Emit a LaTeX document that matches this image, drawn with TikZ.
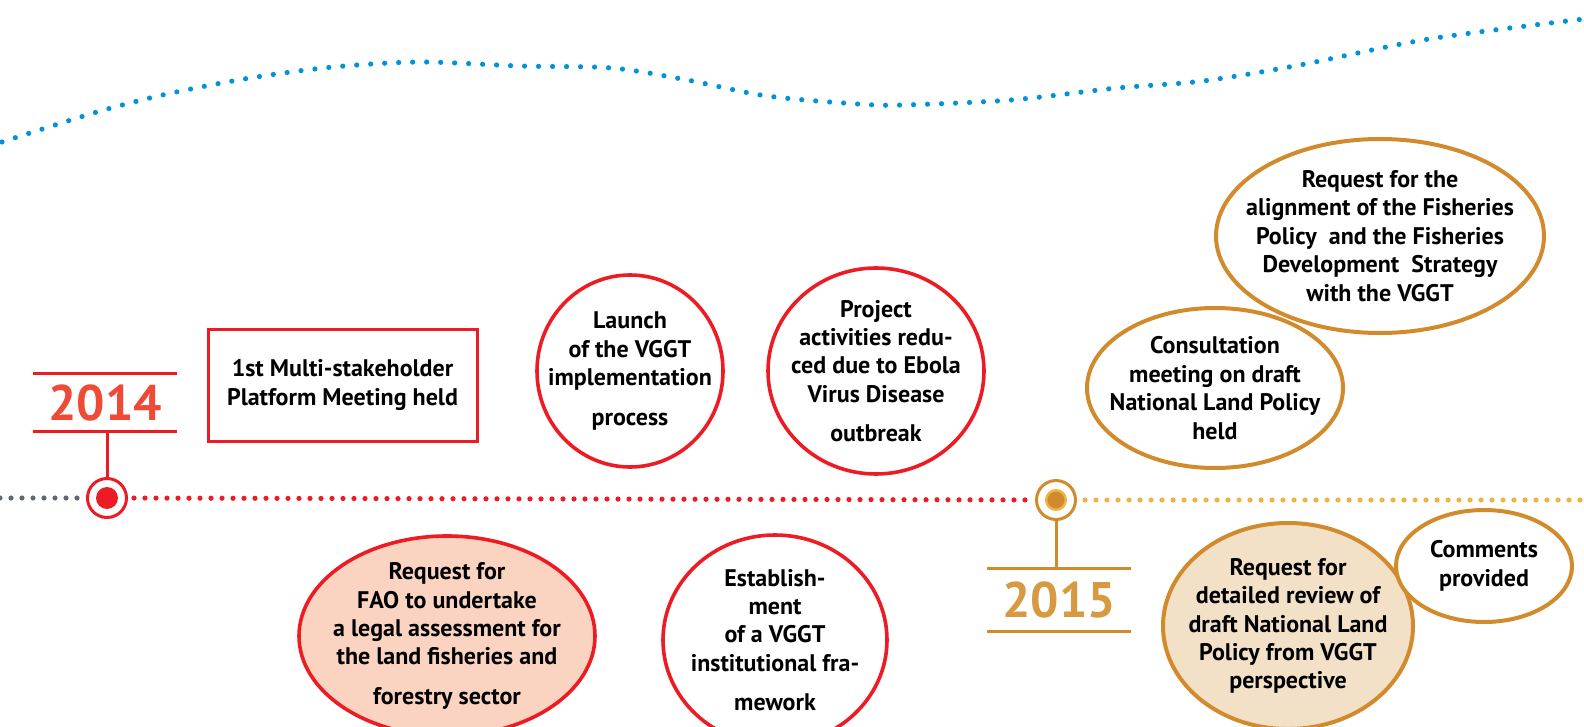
\documentclass[tikz,border=0pt]{standalone}
\usepackage{fontspec}
\setmainfont{PT Sans}
\usetikzlibrary{shapes.geometric}
\definecolor{tlred}{HTML}{ED1C24}
\definecolor{yrred}{HTML}{EF4A36}
\definecolor{tlgold}{HTML}{D18B2C}
\definecolor{yrgold}{HTML}{D79A43}
\definecolor{tlyellow}{HTML}{F0B446}
\definecolor{tlgrey}{HTML}{5E6A75}
\definecolor{tlblue}{HTML}{0093D9}
\definecolor{peach}{HTML}{FAD4C0}
\definecolor{beige}{HTML}{F2E1C7}
\tikzset{
    evt/.style={font=\bfseries\fontsize{12}{14.2}\selectfont, align=center, inner sep=0pt},
    redrim/.style={ellipse, draw=tlred, line width=1.8pt, fill=white, inner sep=0pt},
    goldrim/.style={ellipse, draw=tlgold, line width=2pt, fill=white, inner sep=0pt},
    dots/.style={line width=2.6pt, line cap=round, dash pattern=on 0pt off 5.5pt},
    rule/.style={line width=1.5pt},
    yearbox/.style={font=\bfseries\fontsize{25}{30}\selectfont, minimum width=72pt, minimum height=28.5pt, inner sep=0pt},
    ring/.style={circle, fill=white, line width=1.5pt, minimum size=19.5pt, inner sep=0pt}
}

\begin{document}
\begin{tikzpicture}[x=0.5pt, y=-0.5pt]
                        \clip (0,0) rectangle (1584,727);

                        \draw[dots, tlblue, dash pattern=on 0pt off 7pt] plot[smooth] coordinates {(2,142) (97,112) (167,94) (250,78) (333,67) (420,62) (520,66) (612,68) (687,80) (767,96) (858,104) (903,105) (1011,100) (1117,88) (1203,81) (1300,65) (1429,39) (1584,19)};

                        \node[ring, draw=tlred, path picture={\fill[tlred] (path picture bounding box.center) circle (5.5pt);}] (m14) at (107,498) {};
                        \node[ring, draw=tlgold, path picture={\filldraw[fill=tlgold, draw=tlyellow, line width=1.2pt] (path picture bounding box.center) circle (4.9pt);}] (m15) at (1056,500) {};

                        \coordinate (tl0) at (0,498);
                        \coordinate (tl1) at (1584,500);
                        \draw[dots, tlgrey, shorten >=3pt] (tl0) -- (m14);
                        \draw[dots, tlred, shorten <=3pt, shorten >=3pt] (m14) -- (m15);
                        \draw[dots, tlyellow, shorten <=4pt] (m15) -- (tl1);

                        \node[yearbox, text=yrred] (yr14) at (105,402.5) {2014};
                        \draw[rule, tlred] (yr14.north west) -- (yr14.north east) (yr14.south west) -- (yr14.south east);
                        \draw[rule, tlred] (yr14.south -| m14) -- (m14);

                        \node[yearbox, text=yrgold, minimum height=31pt] (yr15) at (1059,600) {2015};
                        \draw[rule, tlgold] (yr15.north west) -- (yr15.north east) (yr15.south west) -- (yr15.south east);
                        \draw[rule, tlgold] (m15) -- (m15 |- yr15.north);

                        \node[evt, draw=tlred, line width=1.5pt, minimum width=134.5pt, minimum height=56pt] (msp) at (342.5,385) {1st Multi-stakeholder\\Platform Meeting held};

                        \node[redrim, minimum width=93pt, minimum height=96pt] (launch) at (630,371) {};
                        \node[evt] (launchtxt) at (launch) {Launch\\of the VGGT\\implementation\\[5.5pt]process};

                        \node[redrim, minimum width=108pt, minimum height=103pt] (ebola) at (876,371) {};
                        \node[evt] (ebolatxt) at (ebola) {Project\\activities redu-\\ced due to Ebola\\Virus Disease\\[5.5pt]outbreak};

                        \node[redrim, fill=peach, minimum width=148pt, minimum height=100pt] (fao) at (447,636) {};
                        \node[evt] (faotxt) at (fao) {Request for\\FAO to undertake\\a legal assessment for\\the land fisheries and\\[5.5pt]forestry sector};

                        \node[redrim, minimum width=112pt, minimum height=105pt] (inst) at (775,640) {};
                        \node[evt] (insttxt) at (inst) {Establish-\\ment\\of a VGGT\\institutional fra-\\[5.5pt]mework};

                        \node[goldrim, minimum width=164pt, minimum height=97pt] (align) at (1380,236) {};
                        \node[evt] (aligntxt) at (align) {Request for the\\alignment of the Fisheries\\Policy\ \ and the Fisheries\\Development\ \ Strategy\\with the VGGT};

                        \node[goldrim, minimum width=128pt, minimum height=80pt] (consult) at (1215,388) {};
                        \node[evt] (consulttxt) at (consult) {Consultation\\meeting on draft\\National Land Policy\\held};

                        \node[goldrim, fill=beige, minimum width=125pt, minimum height=103pt] (review) at (1288,626) {};
                        \node[evt] (reviewtxt) at (review) {Request for\\detailed review of\\draft National Land\\Policy from VGGT\\perspective};

                        \node[goldrim, minimum width=88pt, minimum height=56pt] (comments) at (1484,566) {};
                        \node[evt] (commentstxt) at (comments) {Comments\\provided};
\end{tikzpicture}
\end{document}
